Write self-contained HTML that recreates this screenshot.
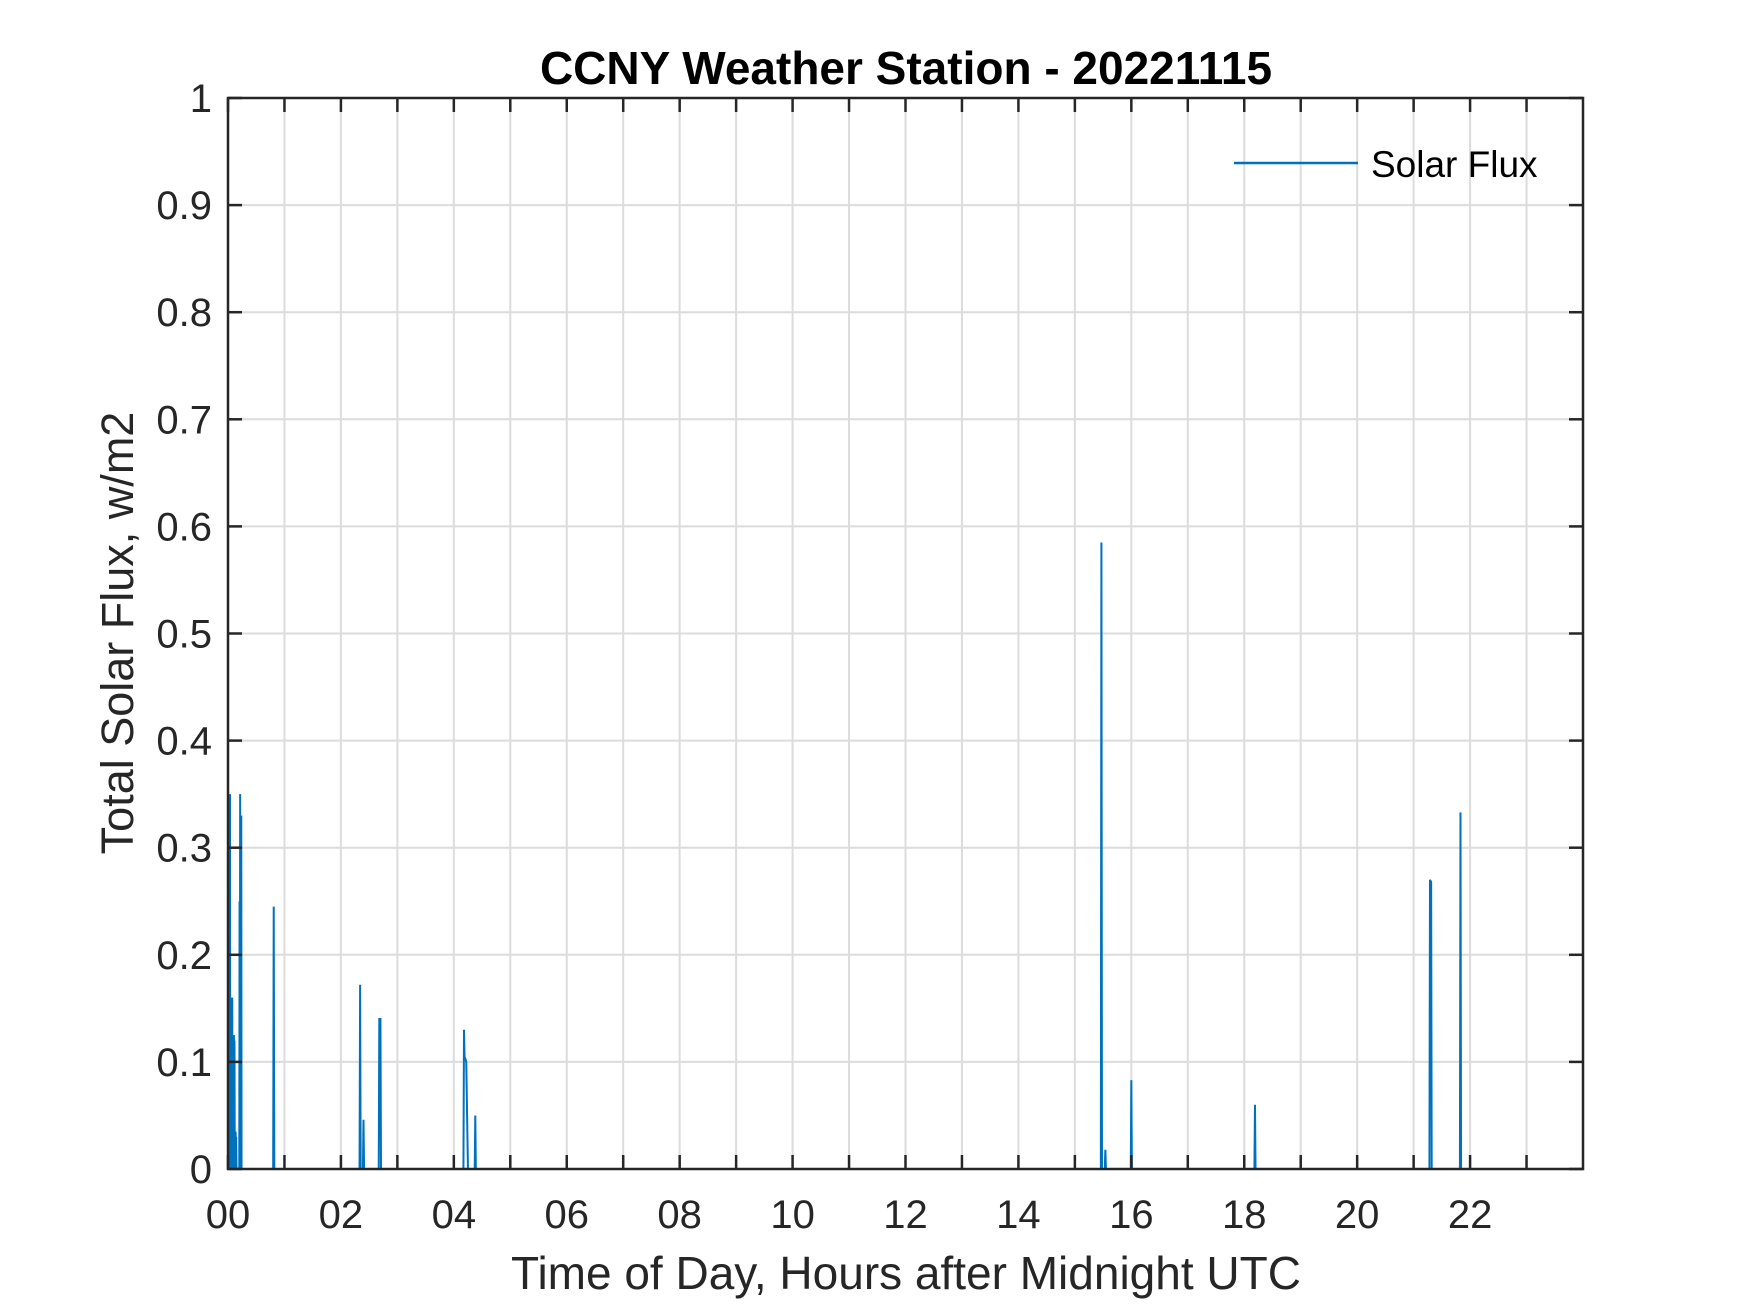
<!DOCTYPE html>
<html><head><meta charset="utf-8"><style>
html,body{margin:0;padding:0;background:#fff;}
svg{display:block;font-family:"Liberation Sans",Arial,sans-serif;}
</style></head><body>
<svg id="chart" width="1750" height="1313" viewBox="0 0 1750 1313" xmlns="http://www.w3.org/2000/svg">
<rect x="0" y="0" width="1750" height="1313" fill="#fff"/>
<rect x="228" y="98" width="1355" height="1071" fill="#fff"/>
<g id="grid"></g>
<g id="series"></g>
<g id="ticks"></g>
<rect x="228" y="98" width="1355" height="1071" fill="none" stroke="#262626" stroke-width="2.5"/>
<text x="906" y="84" text-anchor="middle" font-size="46" font-weight="bold" fill="#000">CCNY Weather Station - 20221115</text>
<text x="906" y="1289" text-anchor="middle" font-size="46" fill="#262626">Time of Day, Hours after Midnight UTC</text>
<text transform="translate(133,633) rotate(-90)" text-anchor="middle" font-size="45" fill="#262626">Total Solar Flux, w/m2</text>
<g>
<line x1="1234" y1="163" x2="1358" y2="163" stroke="#0072BD" stroke-width="2.5"/>
<text x="1371" y="177" font-size="37" fill="#000">Solar Flux</text>
</g>
</svg>
<script>
const xTickHours = [0,1,2,3,4,5,6,7,8,9,10,11,12,13,14,15,16,17,18,19,20,21,22,23];
const xTickLabels = ["00","","02","","04","","06","","08","","10","","12","","14","","16","","18","","20","","22",""];
const yTicks = [0,0.1,0.2,0.3,0.4,0.5,0.6,0.7,0.8,0.9,1];
const yTickLabels = ["0","0.1","0.2","0.3","0.4","0.5","0.6","0.7","0.8","0.9","1"];
const times = [0,0.005,0.01,0.015,0.02,0.025,0.03,0.035,0.04,0.045,0.05,0.055,0.06,0.065,0.07,0.075,0.08,0.085,0.09,0.095,0.1,0.105,0.11,0.115,0.12,0.125,0.13,0.135,0.14,0.145,0.15,
  0.2,0.205,0.21,0.215,0.22,0.225,0.23,0.235,0.24,0.25,
  0.8,0.81,0.82, 2.33,2.34,2.35, 2.39,2.4,2.41, 2.67,2.68,2.7,2.71, 4.17,4.18,4.19,4.21,4.22,4.25,4.26,4.37,4.38,4.39,
  15.46,15.47,15.48, 15.53,15.54,15.55, 15.99,16.0,16.01, 18.18,18.19,18.2, 21.28,21.29,21.31,21.32, 21.82,21.83,21.84];
const values = [0,0.26,0,0.26,0,0.35,0,0.35,0,0.16,0,0.16,0,0.16,0,0.16,0,0.125,0,0.125,0,0.125,0,0.12,0,0.035,0,0.035,0,0.03,0,
  0,0.25,0,0.35,0,0.33,0,0.33,0,0,
  0,0.245,0, 0,0.172,0, 0,0.046,0, 0,0.14,0.14,0, 0,0.13,0.105,0.102,0.1,0,0, 0,0.05,0,
  0,0.585,0, 0,0.018,0, 0,0.083,0, 0,0.06,0, 0,0.27,0.268,0, 0,0.333,0];

const L=228,R=1583,T=98,B=1169;
const xMax=24;
const sx=h=>L+(h/xMax)*(R-L);
const sy=v=>B-v*(B-T);
const NS="http://www.w3.org/2000/svg";
function mk(tag,attrs){const e=document.createElementNS(NS,tag);for(const k in attrs)e.setAttribute(k,attrs[k]);return e;}
const grid=document.getElementById('grid'),ticks=document.getElementById('ticks'),series=document.getElementById('series');
xTickHours.forEach((h,i)=>{
  const x=sx(h);
  if(h>0){const g=mk('line',{x1:x,y1:T,x2:x,y2:B,stroke:'#dcdcdc','stroke-width':2});
  
  
  grid.appendChild(g);}
  const t1=mk('line',{x1:x,y1:B,x2:x,y2:B-14,stroke:'#262626','stroke-width':2.5});
  
  
  ticks.appendChild(t1);
  const t2=mk('line',{x1:x,y1:T,x2:x,y2:T+14,stroke:'#262626','stroke-width':2.5});
  
  
  ticks.appendChild(t2);
  if(xTickLabels[i]){const tx=mk('text',{x:x,y:1228,'text-anchor':'middle','font-size':40,fill:'#262626'});
  tx.textContent=xTickLabels[i];
  
  
  ticks.appendChild(tx);}
});
yTicks.forEach((v,i)=>{
  const y=sy(v);
  if(v>0&&v<1){const g=mk('line',{x1:L,y1:y,x2:R,y2:y,stroke:'#dcdcdc','stroke-width':2});
  
  
  grid.appendChild(g);}
  const t1=mk('line',{x1:L,y1:y,x2:L+14,y2:y,stroke:'#262626','stroke-width':2.5});
  
  
  ticks.appendChild(t1);
  const t2=mk('line',{x1:R,y1:y,x2:R-14,y2:y,stroke:'#262626','stroke-width':2.5});
  
  
  ticks.appendChild(t2);
  const tx=mk('text',{x:212,y:y+14,'text-anchor':'end','font-size':40,fill:'#262626'});
  tx.textContent=yTickLabels[i];
  
  
  ticks.appendChild(tx);
});
const pts=times.map((t,i)=>sx(t).toFixed(2)+','+sy(values[i]).toFixed(2)).join(' ');
const pl=mk('polyline',{points:pts,fill:'none',stroke:'#0072BD','stroke-width':2,'stroke-linejoin':'miter'});


series.appendChild(pl);
</script>
</body></html>
